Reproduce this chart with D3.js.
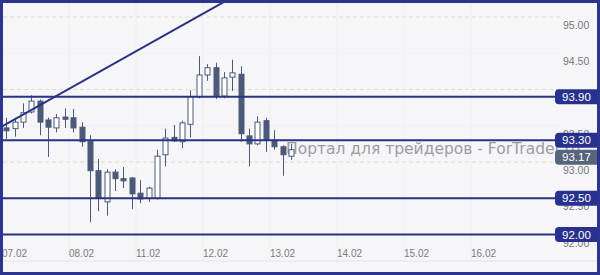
<!DOCTYPE html>
<html lang="en">
<head>
    <meta charset="UTF-8">
    <title>Candles</title>
    <style>
        body { margin: 0; background: #f6f6f8; }
        svg { display: block; }
    </style>
</head>
<body>
    <script src="https://d3js.org/d3.v7.min.js"></script>
    <div id="chart"></div>
    <script>
        const WIDTH = 600
        const HEIGHT = 275
        const PLOT = { LEFT: 3, RIGHT: 555, TOP: 3, BOTTOM: 241 }

        // 3h candles, 8 per trading day
        const opens  = [93.47, 93.46, 93.55, 93.69, 93.84, 93.58, 93.47, 93.62, 93.61, 93.48, 93.28, 92.88, 92.45, 92.86, 92.77, 92.78, 92.57, 92.50, 92.50, 93.10, 93.34, 93.28, 93.52, 93.90, 94.20, 94.30, 93.91, 94.17, 94.21, 93.36, 93.25, 93.57, 93.30, 93.21, 93.08]
        const highs  = [93.61, 93.61, 93.81, 93.92, 93.86, 93.61, 93.66, 93.74, 93.73, 93.55, 93.37, 93.04, 92.90, 92.90, 92.93, 92.79, 92.75, 92.66, 93.17, 93.46, 93.51, 93.57, 93.99, 94.46, 94.35, 94.37, 94.24, 94.41, 94.32, 93.46, 93.63, 93.61, 93.44, 93.23, 93.25]
        const lows   = [93.32, 93.35, 93.47, 93.67, 93.37, 93.07, 93.41, 93.47, 93.41, 93.21, 92.17, 92.32, 92.26, 92.60, 92.64, 92.35, 92.43, 92.45, 92.48, 92.94, 93.28, 93.19, 93.34, 93.88, 94.12, 93.87, 93.88, 93.98, 93.28, 92.94, 93.23, 93.14, 93.17, 92.81, 93.03]
        const closes = [93.43, 93.55, 93.68, 93.84, 93.55, 93.48, 93.61, 93.59, 93.47, 93.28, 92.88, 92.50, 92.86, 92.77, 92.74, 92.56, 92.49, 92.64, 93.08, 93.33, 93.29, 93.54, 93.90, 94.20, 94.30, 93.91, 94.16, 94.23, 93.39, 93.25, 93.55, 93.30, 93.21, 93.10, 93.17]

        const dayLabels = ["07.02", "08.02", "11.02", "12.02", "13.02", "14.02", "15.02", "16.02"]
        const priceTicks = [95.0, 94.5, 94.0, 93.5, 93.0, 92.5, 92.0]
        const levels = [93.90, 93.30, 92.50, 92.00]
        const trendPoints = [{ slot: 0, price: 93.49 }, { slot: 27, price: 95.24 }]
        const lastPrice = 93.17

        const candles = opens.map((o, i) => ({ i, o, h: highs[i], l: lows[i], c: closes[i] }))

        const x = d3.scaleLinear().domain([0, 66]).range([2, 2 + 66 * 8.375])
        const y = d3.scaleLinear().domain([92, 95]).range([234.5, 17])

        const svg = d3.select("#chart")
            .append("svg")
            .attr("width", WIDTH)
            .attr("height", HEIGHT)
            .style("font-family", "'Liberation Sans', sans-serif")

        svg.append("rect")
            .attr("width", WIDTH).attr("height", HEIGHT)
            .attr("fill", "#f6f6f8")

        svg.append("clipPath").attr("id", "plotclip")
            .append("rect")
            .attr("x", PLOT.LEFT).attr("y", PLOT.TOP)
            .attr("width", PLOT.RIGHT - PLOT.LEFT).attr("height", PLOT.BOTTOM - PLOT.TOP)

        // faint grid
        const grid = svg.append("g")
        grid.selectAll(".vgrid")
            .data(dayLabels)
            .join("line")
            .attr("x1", (d, i) => x(i * 8)).attr("x2", (d, i) => x(i * 8))
            .attr("y1", PLOT.TOP).attr("y2", 262)
            .attr("stroke", "#e7e7ee")
            .attr("stroke-dasharray", "1,1")
        grid.selectAll(".hgrid")
            .data(priceTicks)
            .join("line")
            .attr("x1", PLOT.LEFT).attr("x2", PLOT.RIGHT + 5)
            .attr("y1", d => y(d)).attr("y2", d => y(d))
            .attr("stroke", d => d % 1 === 0 ? "#e6dcc4" : "#ececf1")
            .attr("stroke-dasharray", d => d % 1 === 0 ? "4,3" : "1,1")
        svg.append("line")
            .attr("x1", PLOT.LEFT).attr("x2", WIDTH)
            .attr("y1", 261).attr("y2", 261)
            .attr("stroke", "#e4e4ea")

        // watermark
        svg.append("text")
            .attr("x", 286).attr("y", 154)
            .attr("font-size", 15.5)
            .attr("font-family", "'DejaVu Sans', sans-serif")
            .attr("fill", "#9c9ca4")
            .text("Портал для трейдеров - ForTrader.ru")

        // candles
        const plot = svg.append("g").attr("clip-path", "url(#plotclip)")
        const bw = 5
        const cg = plot.selectAll(".candle")
            .data(candles)
            .join("g")
            .attr("class", "candle")
        cg.append("line")
            .attr("x1", d => Math.round(x(d.i + 0.5)) + 0.5)
            .attr("x2", d => Math.round(x(d.i + 0.5)) + 0.5)
            .attr("y1", d => y(d.h)).attr("y2", d => y(d.l))
            .attr("stroke", "#4b5a78")
        cg.append("rect")
            .attr("x", d => Math.round(x(d.i + 0.5)) + 0.5 - bw / 2)
            .attr("y", d => y(Math.max(d.o, d.c)))
            .attr("width", bw)
            .attr("height", d => Math.max(1, Math.abs(y(d.o) - y(d.c))))
            .attr("fill", d => d.c >= d.o ? "#ffffff" : "#4b5a78")
            .attr("stroke", "#4b5a78")

        // levels and trend line
        const lineColor = "#2a3286"
        plot.selectAll(".level")
            .data(levels)
            .join("line")
            .attr("x1", PLOT.LEFT).attr("x2", PLOT.RIGHT + 5)
            .attr("y1", d => y(d)).attr("y2", d => y(d))
            .attr("stroke", lineColor)
            .attr("stroke-width", 2.2)

        const lineGen = d3.line().x(d => x(d.slot)).y(d => y(d.price))
        const tSlope = (trendPoints[1].price - trendPoints[0].price) / (trendPoints[1].slot - trendPoints[0].slot)
        const trendExt = [-2, 40].map(s => ({ slot: s, price: trendPoints[0].price + tSlope * (s - trendPoints[0].slot) }))
        plot.append("path")
            .attr("d", lineGen(trendExt))
            .attr("fill", "none")
            .attr("stroke", lineColor)
            .attr("stroke-width", 2)

        // x labels
        svg.selectAll(".xlab")
            .data(dayLabels)
            .join("text")
            .attr("x", (d, i) => x(i * 8))
            .attr("y", 257)
            .attr("font-size", 10)
            .attr("fill", "#7a7a80")
            .text(d => d)

        // price axis labels
        svg.selectAll(".ylab")
            .data(priceTicks)
            .join("text")
            .attr("x", 563)
            .attr("y", d => y(d) + 12)
            .attr("font-size", 10.5)
            .attr("fill", "#76767c")
            .text(d => d.toFixed(2))

        // level tags
        const tagH = 15
        const tags = levels.map(v => ({ v, cy: y(v), fill: "#28328e" }))
        const lastTag = { v: lastPrice, cy: y(lastPrice), fill: "#56647c" }
        const prev = tags.find(t => Math.abs(t.cy - lastTag.cy) < tagH)
        if (prev) lastTag.cy = prev.cy + tagH + 2
        tags.push(lastTag)

        const tg = svg.selectAll(".tag")
            .data(tags)
            .join("g")
            .attr("transform", d => `translate(555, ${d.cy - tagH / 2})`)
        tg.append("rect")
            .attr("width", 50).attr("height", tagH)
            .attr("rx", 4)
            .attr("fill", d => d.fill)
        tg.append("text")
            .attr("x", 7).attr("y", 11.5)
            .attr("font-size", 11.5)
            .attr("fill", "#ffffff")
            .text(d => d.v.toFixed(2))

        // frame
        svg.append("rect")
            .attr("x", 1.5).attr("y", 1.5)
            .attr("width", WIDTH - 3).attr("height", HEIGHT - 3)
            .attr("fill", "none")
            .attr("stroke", "#2b3590")
            .attr("stroke-width", 3)
    </script>
</body>
</html>
